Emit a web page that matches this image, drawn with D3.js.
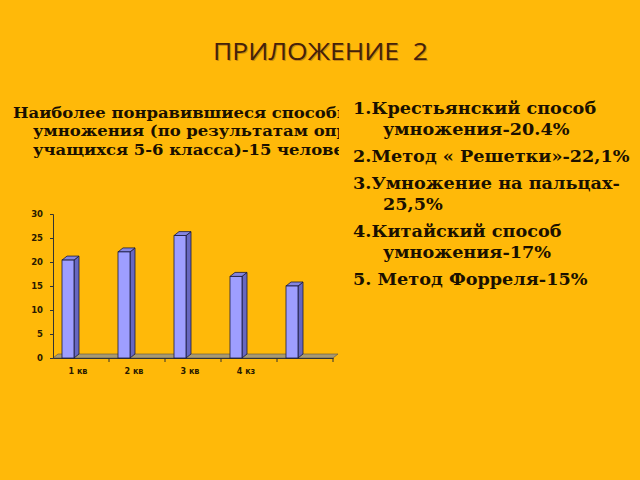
<!DOCTYPE html>
<html><head><meta charset="utf-8">
<script src="https://cdn.jsdelivr.net/npm/d3@7"></script>
<style>html,body{margin:0;padding:0;background:#FFB909;}svg{display:block;}</style>
</head><body>
<script>
const categories = ["1 кв", "2 кв", "3 кв", "4 кз", ""];
const values = [20.4, 22.1, 25.5, 17, 15];
const yTicks = [0, 5, 10, 15, 20, 25, 30];
const titleText = "ПРИЛОЖЕНИЕ  2";
const leftLines = ["Наиболее понравившиеся способы", "умножения (по результатам опроса", "учащихся 5-6 класса)-15 человек"];
const rightItems = [
  ["1.Крестьянский способ", "умножения-20.4%"],
  ["2.Метод « Решетки»-22,1%"],
  ["3.Умножение на пальцах-", "25,5%"],
  ["4.Китайский способ", "умножения-17%"],
  ["5. Метод Форреля-15%"]
];

const W = 640, H = 480;
const svg = d3.select("body").append("svg").attr("width", W).attr("height", H);
svg.append("rect").attr("width", W).attr("height", H).attr("fill", "#FFB909");

// Title
[[1, "#b87810", 0.7], [0, "#45220a", 1]].forEach(([o, c, op]) => {
  svg.append("text").attr("x", 213 + o).attr("y", 60 + o)
    .attr("font-family", "Open Sans, sans-serif").attr("font-size", 23).attr("font-weight", 500)
    .attr("textLength", 215).attr("lengthAdjust", "spacingAndGlyphs")
    .attr("fill", c).attr("opacity", op).attr("xml:space", "preserve").style("white-space", "pre").text(titleText);
});

// Left text (clipped)
svg.append("clipPath").attr("id", "lclip").append("rect").attr("x", 0).attr("y", 90).attr("width", 339).attr("height", 80);
const lt = svg.append("g").attr("clip-path", "url(#lclip)");
leftLines.forEach((s, i) => {
  const x0 = i === 0 ? 13 : 33;
  lt.append("text").attr("x", 0).attr("y", 0)
    .attr("transform", `translate(${x0},${117.5 + i * 18.5}) scale(1.06,1)`)
    .attr("font-family", "DejaVu Serif, serif").attr("font-weight", "bold").attr("font-size", 15.5)
    .attr("fill", "#1a1000").text(s);
});

// Right text
let ry = 114;
rightItems.forEach((item) => {
  item.forEach((s, j) => {
    const x0 = j === 0 ? 353 : 383;
    svg.append("text").attr("x", 0).attr("y", 0)
      .attr("transform", `translate(${x0},${ry}) scale(1.07,1)`)
      .attr("font-family", "DejaVu Serif, serif").attr("font-weight", "bold").attr("font-size", 16.5)
      .attr("fill", "#1a1000").text(s);
    ry += 21;
  });
  ry += 6;
});

// Chart
const x = d3.scaleBand().domain(d3.range(categories.length)).range([53, 333]).padding(0);
const y = d3.scaleLinear().domain([0, 30]).range([358, 214]);
const dx = 5, dy = -4;
const g = svg.append("g");

// floor
g.append("polygon")
  .attr("points", [[53, y(0)], [333, y(0)], [333 + dx, y(0) + dy], [53 + dx, y(0) + dy]].map(p => p.join(",")).join(" "))
  .attr("fill", "#A99A72").attr("stroke", "#5a5040").attr("stroke-width", 0.6);

// y axis
const yAxis = d3.axisLeft(y).tickValues(yTicks).tickSize(3).tickPadding(7);
const ya = g.append("g").attr("transform", "translate(53,0)").call(yAxis);
ya.select(".domain").attr("stroke", "#333").attr("stroke-width", 1);
ya.selectAll(".tick line").attr("stroke", "#333");
ya.selectAll("text").attr("font-family", "DejaVu Sans, sans-serif").attr("font-size", 8.5)
  .attr("fill", "#2a1a00").attr("font-weight", "bold");

// x axis
const xAxis = d3.axisBottom(x).tickSize(0).tickFormat(i => categories[i]);
const xa = g.append("g").attr("transform", `translate(0,${y(0)})`).call(xAxis);
xa.select(".domain").attr("stroke", "#333").attr("stroke-width", 1);
xa.selectAll("text").attr("font-family", "DejaVu Sans, sans-serif").attr("font-size", 8)
  .attr("fill", "#2a1a00").attr("dy", "1.6em").attr("dx", -3).attr("font-weight", "bold");
// category divider ticks
g.selectAll(".divtick").data(d3.range(categories.length)).join("line")
  .attr("x1", i => x(i) + x.bandwidth()).attr("x2", i => x(i) + x.bandwidth())
  .attr("y1", y(0)).attr("y2", y(0) + 4).attr("stroke", "#333");

// bars
const bw = 12, off = 9;
const bars = g.selectAll(".bar").data(values).join("g");
bars.append("polygon") // side
  .attr("points", (d, i) => {
    const x0 = x(i) + off + bw;
    return [[x0, y(d)], [x0 + dx, y(d) + dy], [x0 + dx, y(0) + dy], [x0, y(0)]].map(p => p.join(",")).join(" ");
  })
  .attr("fill", "#6767C0").attr("stroke", "#1a1a3a").attr("stroke-width", 0.8);
bars.append("polygon") // top
  .attr("points", (d, i) => {
    const x0 = x(i) + off;
    return [[x0, y(d)], [x0 + bw, y(d)], [x0 + bw + dx, y(d) + dy], [x0 + dx, y(d) + dy]].map(p => p.join(",")).join(" ");
  })
  .attr("fill", "#8585E0").attr("stroke", "#1a1a3a").attr("stroke-width", 0.8);
bars.append("rect") // front
  .attr("x", (d, i) => x(i) + off).attr("y", d => y(d))
  .attr("width", bw).attr("height", d => y(0) - y(d))
  .attr("fill", "#9E9EFF").attr("stroke", "#1a1a3a").attr("stroke-width", 0.8);
</script>
</body></html>
